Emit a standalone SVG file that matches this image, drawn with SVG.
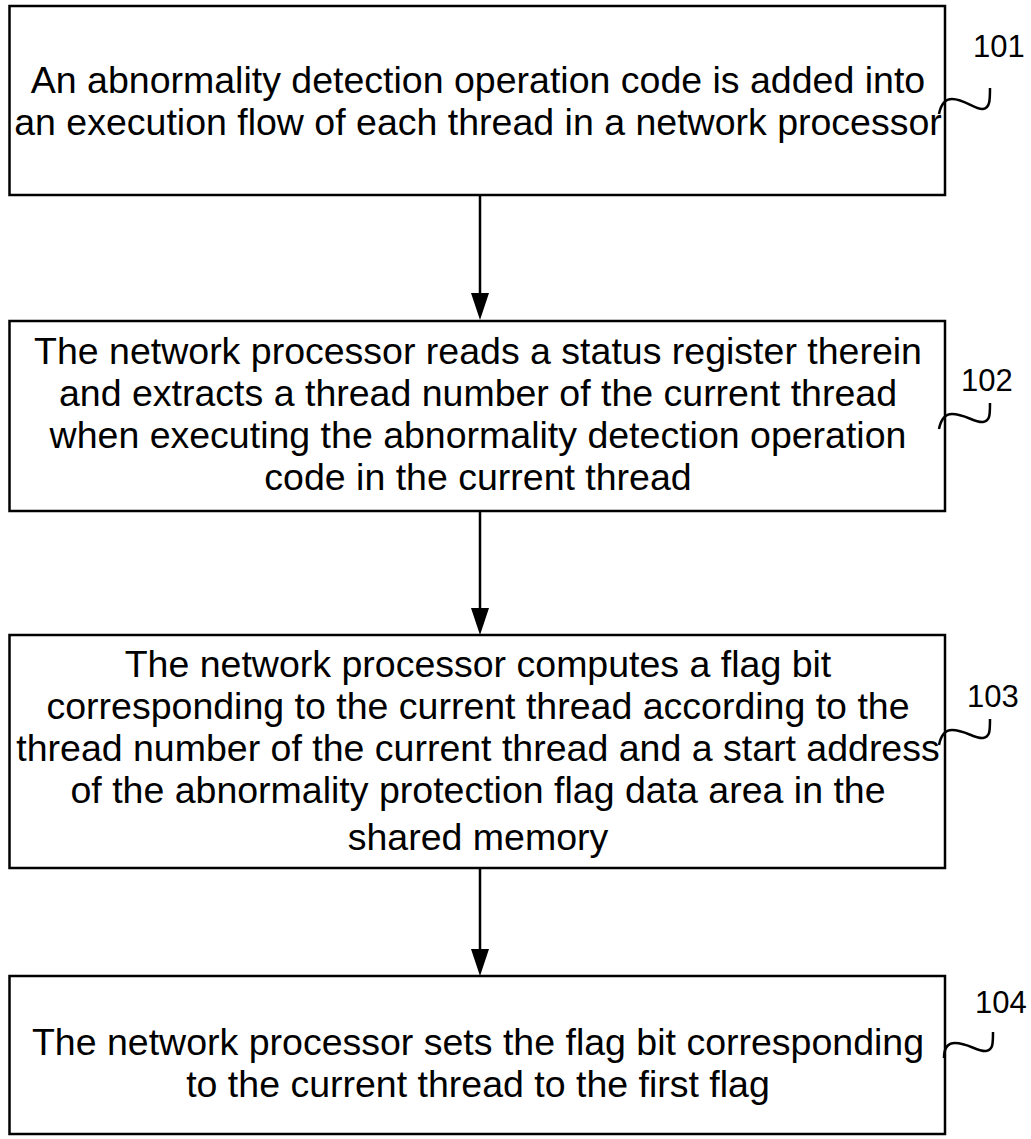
<svg xmlns="http://www.w3.org/2000/svg" width="1031" height="1139" viewBox="0 0 1031 1139">
<defs>
<style>
.box{fill:#fff;stroke:#000;stroke-width:2.5}
.t{font-family:"Liberation Sans",Arial,sans-serif;font-size:37.5px;fill:#000;text-anchor:middle}
.lbl{font-family:"Liberation Sans",Arial,sans-serif;font-size:31px;fill:#000}
.sq{fill:none;stroke:#000;stroke-width:2.5}
.conn{stroke:#000;stroke-width:2.5;fill:none}
</style>
</defs>
<rect width="1031" height="1139" fill="#fff"/>
<g id="connectors">
<line class="conn" x1="480" y1="195" x2="480" y2="293"/><polygon points="471,293 489,293 480,320"/>
<line class="conn" x1="480" y1="511" x2="480" y2="608"/><polygon points="471,608 489,608 480,635"/>
<line class="conn" x1="480" y1="868" x2="480" y2="949"/><polygon points="471,949 489,949 480,976"/>
</g>
<g id="node101">
<rect class="box" x="9.5" y="6" width="935.5" height="189"/>
<text class="t" x="478" y="93">An abnormality detection operation code is added into</text>
<text class="t" x="478" y="135">an execution flow of each thread in a network processor</text>
<path class="sq" d="M939,114 C941,104 945,99 952,99 C965,99 975,110 983,109 C990,108 990,100 990,88"/>
<text class="lbl" x="973" y="57">101</text>
</g>
<g id="node102">
<rect class="box" x="9.5" y="321" width="935.5" height="190"/>
<text class="t" x="478" y="364">The network processor reads a status register therein</text>
<text class="t" x="478" y="406">and extracts a thread number of the current thread</text>
<text class="t" x="478" y="448">when executing the abnormality detection operation</text>
<text class="t" x="478" y="490">code in the current thread</text>
<path class="sq" d="M939,429 C941,419 945,414 952,414 C965,414 975,423 983,422 C990,421 990,415 990,403"/>
<text class="lbl" x="961" y="391">102</text>
</g>
<g id="node103">
<rect class="box" x="9.5" y="635" width="935.5" height="233"/>
<text class="t" x="478" y="677">The network processor computes a flag bit</text>
<text class="t" x="478" y="719">corresponding to the current thread according to the</text>
<text class="t" x="478" y="761">thread number of the current thread and a start address</text>
<text class="t" x="478" y="803">of the abnormality protection flag data area in the</text>
<text class="t" x="478" y="850">shared memory</text>
<path class="sq" d="M939,745 C941,735 945,730 952,730 C965,730 975,739 983,738 C990,737 990,731 990,719"/>
<text class="lbl" x="967" y="707">103</text>
</g>
<g id="node104">
<rect class="box" x="9.5" y="976" width="935.5" height="158"/>
<text class="t" x="478" y="1055">The network processor sets the flag bit corresponding</text>
<text class="t" x="478" y="1097">to the current thread to the first flag</text>
<path class="sq" d="M944,1058 C944,1048 948,1043 955,1043 C968,1043 978,1052 986,1051 C993,1050 993,1044 993,1032"/>
<text class="lbl" x="975" y="1013">104</text>
</g>
</svg>
